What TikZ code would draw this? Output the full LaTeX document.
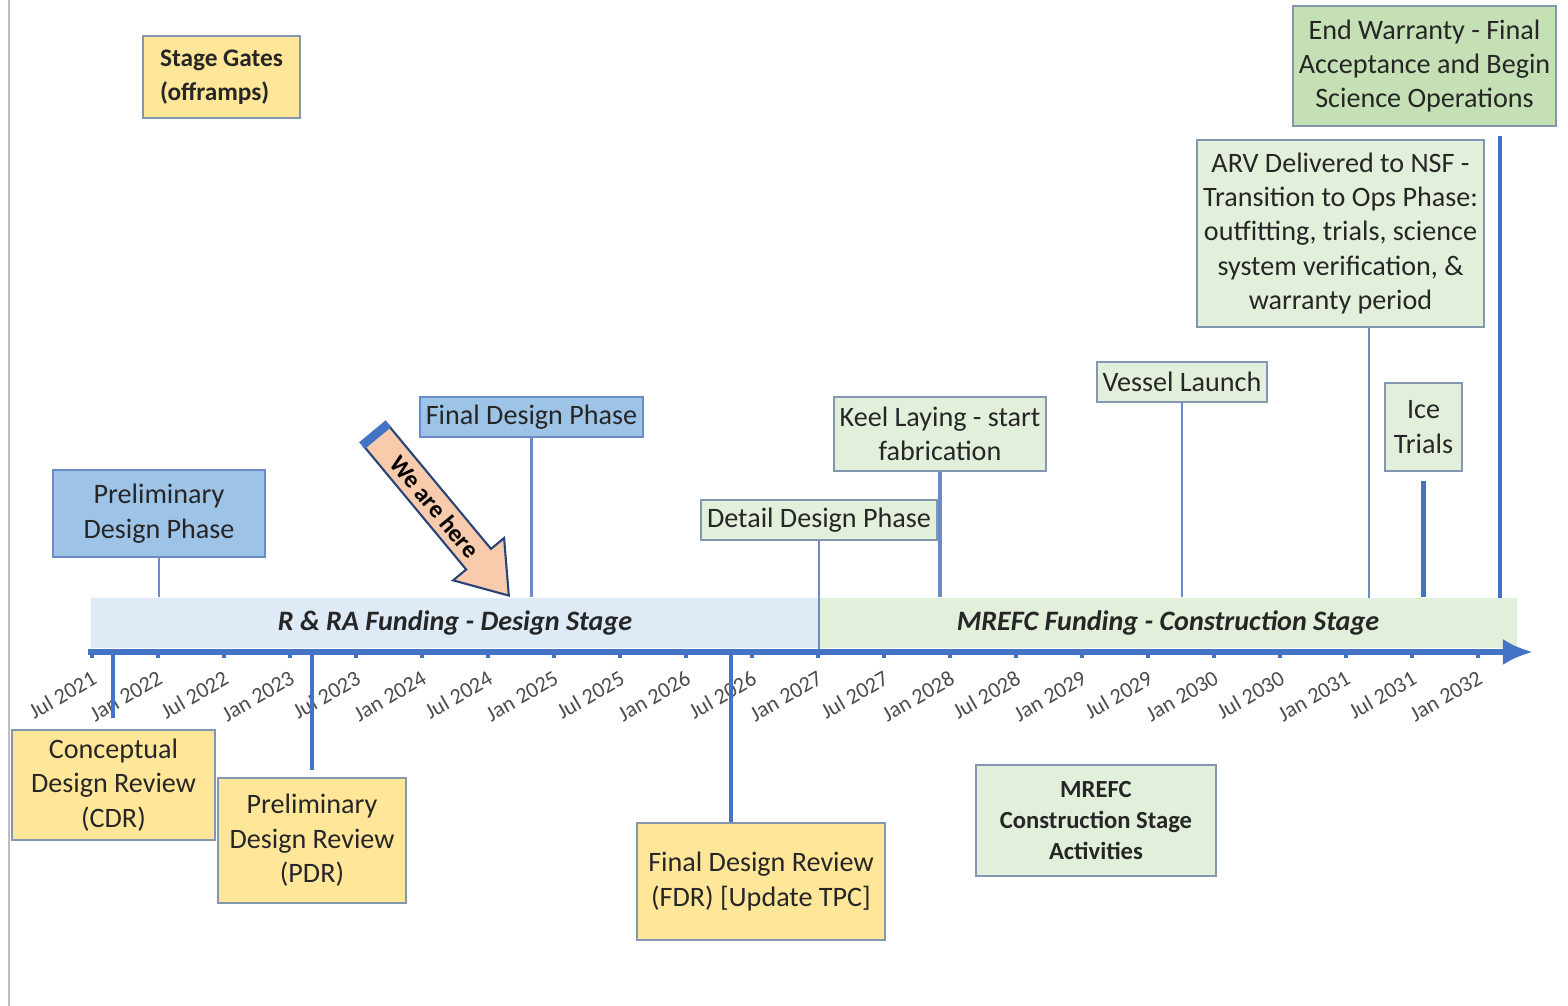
\documentclass[tikz,border=0pt]{standalone}
\usepackage{fontspec}
\setmainfont{Carlito}
\usetikzlibrary{shapes.arrows, arrows.meta}

\definecolor{axisblue}{HTML}{4472C4}
\definecolor{phaseblue}{HTML}{9DC3E6}
\definecolor{bandblue}{HTML}{DEEBF7}
\definecolor{gateyellow}{HTML}{FFE699}
\definecolor{buildgreen}{HTML}{E2EFDA}
\definecolor{endgreen}{HTML}{C5E0B4}
\definecolor{peach}{HTML}{F8CBAD}
\definecolor{edgeblue}{HTML}{6A8BC6}
\definecolor{edgegray}{HTML}{8497B0}

\begin{document}
\begin{tikzpicture}[
  x=0.01cm, y=-0.01cm,
  every node/.style={font=\fontsize{8}{9.8}\selectfont, text=black!85, align=center, inner sep=1pt},
  box/.style={draw=edgegray, line width=0.6pt},
  phase/.style={box, draw=edgeblue, fill=phaseblue},
  gate/.style={box, fill=gateyellow},
  build/.style={box, fill=buildgreen},
  band/.style={minimum height=0.5cm, inner sep=0pt, font=\fontsize{8}{9.8}\selectfont\bfseries\itshape},
  stem/.style={edgeblue, line width=0.6pt},
  mile/.style={axisblue, line width=1.3pt},
  datelbl/.style={rotate=30, anchor=east, font=\fontsize{6.3}{7}\selectfont, text=black!70, inner sep=0pt}
]

\useasboundingbox (0,0) rectangle (1568,1006);
\draw[black!25, line width=0.5pt] (9,0) -- (9,1006);

% legend
\node[gate, align=left, minimum width=1.57cm, minimum height=0.82cm, font=\fontsize{7.2}{9.5}\selectfont\bfseries] (gates) at (221.5,77) {Stage Gates\\(offramps)};
\node[build, minimum width=2.4cm, minimum height=1.11cm, font=\fontsize{7}{8.8}\selectfont\bfseries] (mrefcact) at (1096,820.5) {MREFC\\Construction Stage\\Activities};

% funding bands
\node[band, fill=bandblue, minimum width=7.28cm] (design) at (455,623) {R \& RA Funding - Design Stage};
\node[band, fill=buildgreen, minimum width=6.98cm] (build) at (1168,623) {MREFC Funding - Construction Stage};

% phases and milestones above the axis
\node[phase, minimum width=2.12cm, minimum height=0.87cm] (prelim) at (159,513.5) {Preliminary\\Design Phase};
\node[phase, minimum width=2.23cm, minimum height=0.4cm] (finaldp) at (531.5,417) {Final Design Phase};
\node[build, minimum width=2.36cm, minimum height=0.4cm] (detail) at (819,520) {Detail Design Phase};
\node[build, minimum width=2.12cm, minimum height=0.74cm] (keel) at (940,434) {Keel Laying - start\\fabrication};
\node[build, minimum width=1.7cm, minimum height=0.4cm] (launch) at (1182,382) {Vessel Launch};
\node[build, minimum width=2.87cm, minimum height=1.87cm] (arv) at (1340.5,233.5) {ARV Delivered to NSF -\\Transition to Ops Phase:\\outfitting, trials, science\\system verification, \&\\warranty period};
\node[build, minimum width=0.77cm, minimum height=0.88cm] (ice) at (1423.5,427) {Ice\\Trials};
\node[box, fill=endgreen, minimum width=2.63cm, minimum height=1.2cm] (endw) at (1424.5,66) {End Warranty - Final\\Acceptance and Begin\\Science Operations};

% stage gates below the axis
\node[gate, minimum width=2.03cm, minimum height=1.1cm] (cdr) at (113.5,785) {Conceptual\\Design Review\\(CDR)};
\node[gate, minimum width=1.88cm, minimum height=1.25cm] (pdr) at (312,840.5) {Preliminary\\Design Review\\(PDR)};
\node[gate, minimum width=2.48cm, minimum height=1.17cm] (fdr) at (761,881.5) {Final Design Review\\(FDR) [Update TPC]};

\coordinate (axstart) at (88,652);
\coordinate (axend) at (1533,652);
\coordinate (cdrmark) at (113,652);
\coordinate (pdrmark) at (312,652);
\coordinate (fdrmark) at (731,652);
\coordinate (arvmark) at (1369,598);
\coordinate (endmark) at (1500,598);

% dates and ticks
\foreach \lbl [count=\i from 0] in {Jul 2021, Jan 2022, Jul 2022, Jan 2023, Jul 2023, Jan 2024, Jul 2024, Jan 2025, Jul 2025, Jan 2026, Jul 2026, Jan 2027, Jul 2027, Jan 2028, Jul 2028, Jan 2029, Jul 2029, Jan 2030, Jul 2030, Jan 2031, Jul 2031, Jan 2032} {
  \node[datelbl] (date\i) at (95+66*\i,676) {\lbl};
  \draw[axisblue, line width=1.2pt] (92+66*\i,652) -- ++(0,6);
}

\draw[stem] (prelim.south) -- (prelim.south |- design.north);
\draw[stem] (finaldp.south) -- (finaldp.south |- design.north);
\draw[stem] (detail.south) -- (detail.south |- axstart);
\draw[stem, line width=0.9pt] (keel.south) -- (keel.south |- build.north);
\draw[stem, line width=0.8pt] (launch.south) -- (launch.south |- build.north);
\draw[stem] (arvmark) -- (arvmark |- arv.south);
\draw[mile, shorten >=2.5pt] (ice.south |- build.north) -- (ice.south);
\draw[mile, shorten >=2.5pt] (endmark) -- (endmark |- endw.south);

\draw[mile, shorten >=3pt] (cdrmark) -- (cdrmark |- cdr.north);
\draw[mile, shorten >=2pt] (pdrmark) -- (pdrmark |- pdr.north);
\draw[mile] (fdrmark) -- (fdrmark |- fdr.north);

\draw[axisblue, line width=1.5pt, -{Latex[length=3mm,width=2.6mm]}] (axstart) -- (axend);

% we are here
\node[single arrow, draw=axisblue!60!black, fill=peach, line width=0.6pt, rotate=-50.3, anchor=tip,
      minimum height=2.08cm, single arrow head extend=0.17cm, single arrow tip angle=70,
      inner sep=1.8pt, font=\fontsize{7}{8}\selectfont\bfseries, text=black] (here) at (510,597) {We are here};
\draw[axisblue, line width=2.5pt] (here.before tail) -- (here.after tail);

\end{tikzpicture}
\end{document}
